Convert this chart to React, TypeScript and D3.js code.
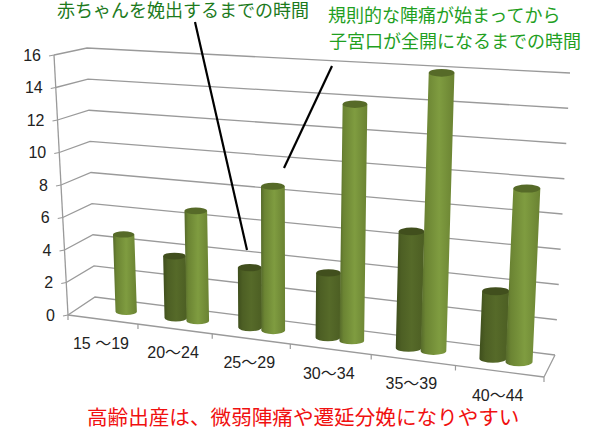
import React from "react";
import * as d3 from "d3";

const categories = ["15 ～19", "20～24", "25～29", "30～34", "35～39", "40～44"];
const darkValues: (number | null)[] = [null, 3.8, 3.6, 3.8, 6.7, 3.8];
const lightValues = [4.8, 6.7, 8.6, 13.8, 15.9, 9.7];
const yTicks = [0, 2, 4, 6, 8, 10, 12, 14, 16];
const catStops = [0, 0.147, 0.303, 0.467, 0.637, 0.814, 1];

const tScale = d3.scaleLinear<number>().domain(d3.range(7)).range(catStops);
const FL0 = [68, 315], FL1 = [54, 55], BL0 = [95, 297], BL1 = [87, 48];
const BR0 = [555, 355], BR1 = [570, 73], FR0 = [544, 377], FR1 = [558, 82];
const lerp = (a: number[], b: number[], f: number) => [a[0] + (b[0] - a[0]) * f, a[1] + (b[1] - a[1]) * f];
const vScale = d3.scaleLinear().domain([0, 16]).range([0, 1]);

function project(cat: number, z: number, v: number) {
  const t = tScale(cat), f = vScale(v);
  const front = lerp(lerp(FL0, FR0, t), lerp(FL1, FR1, t), f);
  const back = lerp(lerp(BL0, BR0, t), lerp(BL1, BR1, t), f);
  return lerp(front, back, z);
}
const line = d3.line();
const seg = (a: number[], b: number[]) => line([a as [number, number], b as [number, number]]) as string;

function cylinder(cat: number, offset: number, value: number) {
  const c = cat + 0.5 + offset;
  const base = project(c, 0.5, 0);
  const top = project(c, 0.5, value);
  const l = project(c - 0.155, 0.5, 0)[0], r = project(c + 0.155, 0.5, 0)[0];
  const rx = (r - l) / 2, ry = rx * 0.3;
  const body = `M${top[0] - rx},${top[1]} L${base[0] - rx},${base[1]} A${rx},${ry} 0 0 0 ${base[0] + rx},${base[1]} L${top[0] + rx},${top[1]} Z`;
  return { body, top, rx, ry };
}

const GRID = "#9a9a9a";
const LABEL_FONT = "'Liberation Sans','Noto Sans CJK JP',sans-serif";
const JP_FONT = "'Noto Sans CJK JP',sans-serif";

export default function App() {
  return (
    <svg width={606} height={427} style={{ position: "absolute", left: 0, top: 0, background: "#fff" }}>
      <defs>
        <linearGradient id="lightG" x1="0" x2="1" y1="0" y2="0">
          <stop offset="0" stopColor="#55692a" />
          <stop offset="0.15" stopColor="#6b8433" />
          <stop offset="0.55" stopColor="#7f9c40" />
          <stop offset="1" stopColor="#6a8232" />
        </linearGradient>
        <linearGradient id="darkG" x1="0" x2="1" y1="0" y2="0">
          <stop offset="0" stopColor="#3e4e1c" />
          <stop offset="0.2" stopColor="#4d5f24" />
          <stop offset="0.55" stopColor="#566a29" />
          <stop offset="1" stopColor="#4c5e23" />
        </linearGradient>
      </defs>
      {yTicks.map((v) => {
        const a = project(0, 0, v), b = project(0, 1, v), c = project(6, 1, v);
        return (
          <g key={v}>
            <path d={line([[a[0], a[1]], [b[0], b[1]], [c[0], c[1]]]) as string} fill="none" stroke={GRID} strokeWidth={1.3} />
            <path d={seg(a, [a[0] - 5, a[1] + 1])} stroke={GRID} strokeWidth={1.2} />
            <text x={a[0] - 13} y={a[1]} textAnchor="end" dominantBaseline="central" fontFamily={LABEL_FONT} fontSize={16} fill="#222">{v}</text>
          </g>
        );
      })}
      <path d={seg(project(0, 0, 0), project(0, 0, 16))} stroke={GRID} strokeWidth={1.3} />
      <path d={seg(project(0, 0, 0), project(6, 0, 0))} stroke={GRID} strokeWidth={1.3} />
      <path d={seg(project(6, 0, 0), project(6, 1, 0))} stroke={GRID} strokeWidth={1.3} />
      {d3.range(7).map((i) => {
        const p = project(i, 0, 0);
        return <path key={i} d={seg(p, [p[0], p[1] + 5])} stroke={GRID} strokeWidth={1.2} />;
      })}
      {categories.map((name, i) => {
        const p = project(i + 0.5, 0, 0);
        return (
          <text key={name} x={p[0] - 2} y={p[1] + 24} textAnchor="middle" dominantBaseline="central" fontFamily={LABEL_FONT} fontSize={16} fill="#222">{name}</text>
        );
      })}
      {categories.map((name, i) => {
        const dv = darkValues[i];
        const d = dv == null ? null : cylinder(i, -0.15, dv);
        const l = cylinder(i, 0.15, lightValues[i]);
        return (
          <g key={name}>
            {d && (
              <g>
                <path d={d.body} fill="url(#darkG)" />
                <ellipse cx={d.top[0]} cy={d.top[1]} rx={d.rx} ry={d.ry} fill="#414f1d" />
              </g>
            )}
            <path d={l.body} fill="url(#lightG)" />
            <ellipse cx={l.top[0]} cy={l.top[1]} rx={l.rx} ry={l.ry} fill="#566a28" />
          </g>
        );
      })}
      <line x1={195} y1={22} x2={247} y2={250} stroke="#000" strokeWidth={2.2} />
      <line x1={332} y1={66} x2={284} y2={168} stroke="#000" strokeWidth={2.2} />
      <g fontFamily={JP_FONT} fontSize={18} dominantBaseline="central">
        <text x={57} y={9} fill="#1c7a1c">赤ちゃんを娩出するまでの時間</text>
        <text x={328} y={14} fill="#1fa01f">規則的な陣痛が始まってから</text>
        <text x={329} y={40} fill="#1fa01f">子宮口が全開になるまでの時間</text>
      </g>
      <text x={87} y={416} fontFamily={JP_FONT} fontSize={20.6} dominantBaseline="central" fill="#f01010">高齢出産は、微弱陣痛や遷延分娩になりやすい</text>
    </svg>
  );
}
